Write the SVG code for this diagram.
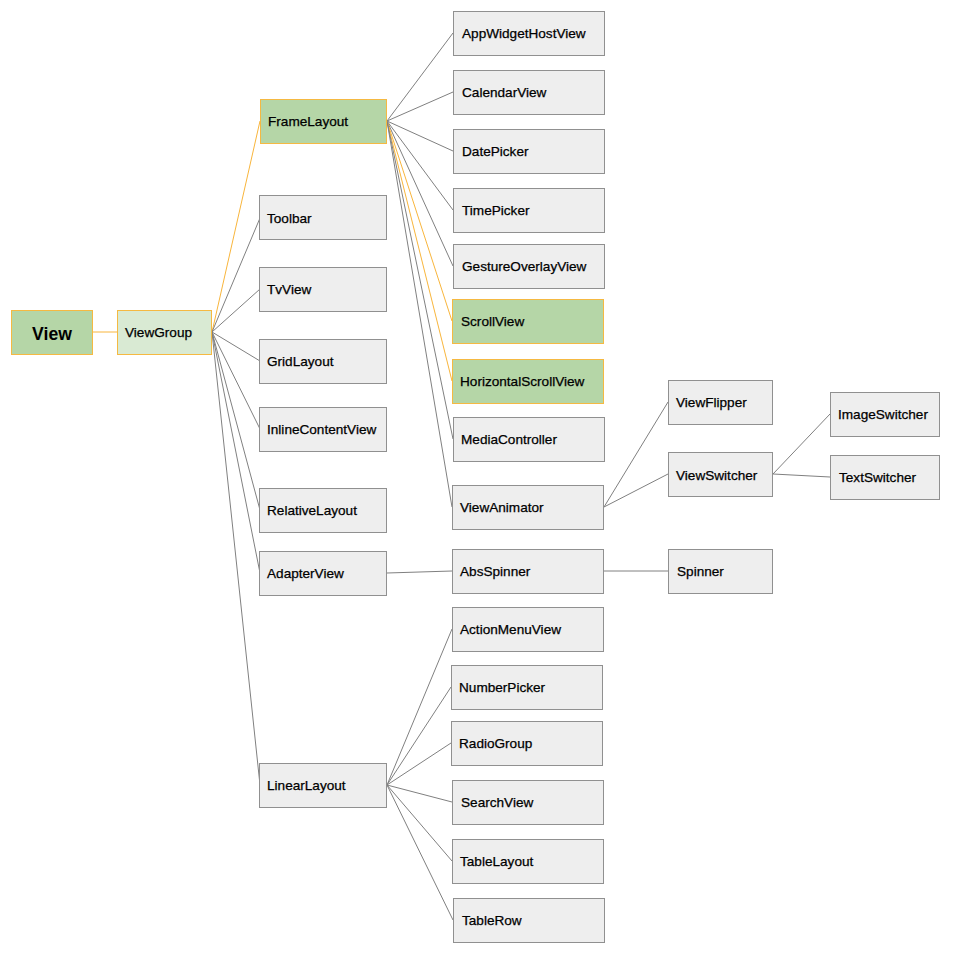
<svg xmlns="http://www.w3.org/2000/svg" width="954" height="955" viewBox="0 0 954 955">
<style>
.n rect{fill:#eeeeee;stroke:#909090;stroke-width:1}
.g rect{fill:#b5d6a7;stroke:#f5b942;stroke-width:1}
.lg rect{fill:#d9ead3;stroke:#f5b942;stroke-width:1}
text{font-family:"Liberation Sans",Arial,sans-serif;font-size:13.6px;fill:#000000;stroke:#000000;stroke-width:0.25}
.e line{stroke:#808080;stroke-width:1;fill:none}
.e line.o{stroke:#f8b53c}
</style>
<rect width="954" height="955" fill="#ffffff"/>
<g class="e" id="connectors">
<line class="o" x1="93" y1="332" x2="117" y2="332"/>
<line class="o" x1="212" y1="332" x2="260" y2="121"/>
<line x1="212" y1="332" x2="260" y2="218"/>
<line x1="212" y1="332" x2="260" y2="289"/>
<line x1="212" y1="332" x2="260" y2="361"/>
<line x1="212" y1="332" x2="260" y2="429"/>
<line x1="212" y1="332" x2="260" y2="510"/>
<line x1="212" y1="332" x2="260" y2="573"/>
<line x1="212" y1="332" x2="260" y2="785"/>
<line x1="387" y1="121" x2="453" y2="33"/>
<line x1="387" y1="121" x2="453" y2="92"/>
<line x1="387" y1="121" x2="453" y2="151"/>
<line x1="387" y1="121" x2="453" y2="210"/>
<line x1="387" y1="121" x2="453" y2="266"/>
<line class="o" x1="387" y1="121" x2="452" y2="321"/>
<line class="o" x1="387" y1="121" x2="452" y2="381"/>
<line x1="387" y1="121" x2="453" y2="439"/>
<line x1="387" y1="121" x2="452" y2="507"/>
<line x1="604" y1="507" x2="668" y2="402"/>
<line x1="604" y1="507" x2="668" y2="474"/>
<line x1="773" y1="474" x2="830" y2="414"/>
<line x1="773" y1="474" x2="830" y2="477"/>
<line x1="387" y1="573" x2="452" y2="571"/>
<line x1="604" y1="571" x2="668" y2="571"/>
<line x1="387" y1="785" x2="452" y2="629"/>
<line x1="387" y1="785" x2="451" y2="687"/>
<line x1="387" y1="785" x2="451" y2="743"/>
<line x1="387" y1="785" x2="452" y2="802"/>
<line x1="387" y1="785" x2="452" y2="861"/>
<line x1="387" y1="785" x2="453" y2="920"/>
</g>
<g id="View" class="g"><rect x="11.5" y="310.5" width="81" height="44"/><text x="52" y="340" text-anchor="middle" style="font-size:17.6px;font-weight:bold;stroke-width:0">View</text></g>
<g id="ViewGroup" class="lg"><rect x="117.5" y="310.5" width="94" height="44"/><text x="125" y="337">ViewGroup</text></g>
<g id="FrameLayout" class="g"><rect x="260.5" y="99.5" width="126" height="44"/><text x="268" y="126">FrameLayout</text></g>
<g id="Toolbar" class="n"><rect x="259.5" y="195.5" width="127" height="44"/><text x="267" y="223">Toolbar</text></g>
<g id="TvView" class="n"><rect x="259.5" y="267.5" width="127" height="44"/><text x="267" y="294">TvView</text></g>
<g id="GridLayout" class="n"><rect x="259.5" y="339.5" width="127" height="44"/><text x="267" y="366">GridLayout</text></g>
<g id="InlineContentView" class="n"><rect x="259.5" y="407.5" width="127" height="44"/><text x="267" y="434">InlineContentView</text></g>
<g id="RelativeLayout" class="n"><rect x="259.5" y="488.5" width="127" height="44"/><text x="267" y="515">RelativeLayout</text></g>
<g id="AdapterView" class="n"><rect x="259.5" y="551.5" width="127" height="44"/><text x="267" y="578">AdapterView</text></g>
<g id="LinearLayout" class="n"><rect x="259.5" y="763.5" width="127" height="44"/><text x="267" y="790">LinearLayout</text></g>
<g id="AppWidgetHostView" class="n"><rect x="453.5" y="11.5" width="151" height="44"/><text x="462" y="38">AppWidgetHostView</text></g>
<g id="CalendarView" class="n"><rect x="453.5" y="70.5" width="151" height="44"/><text x="462" y="97">CalendarView</text></g>
<g id="DatePicker" class="n"><rect x="453.5" y="129.5" width="151" height="44"/><text x="462" y="156">DatePicker</text></g>
<g id="TimePicker" class="n"><rect x="453.5" y="188.5" width="151" height="44"/><text x="462" y="215">TimePicker</text></g>
<g id="GestureOverlayView" class="n"><rect x="453.5" y="244.5" width="151" height="44"/><text x="462" y="271">GestureOverlayView</text></g>
<g id="ScrollView" class="g"><rect x="452.5" y="299.5" width="151" height="44"/><text x="461" y="326">ScrollView</text></g>
<g id="HorizontalScrollView" class="g"><rect x="452.5" y="359.5" width="151" height="44"/><text x="460" y="386">HorizontalScrollView</text></g>
<g id="MediaController" class="n"><rect x="453.5" y="417.5" width="151" height="44"/><text x="461" y="444">MediaController</text></g>
<g id="ViewAnimator" class="n"><rect x="452.5" y="485.5" width="151" height="44"/><text x="460" y="512">ViewAnimator</text></g>
<g id="AbsSpinner" class="n"><rect x="452.5" y="549.5" width="151" height="44"/><text x="460" y="576">AbsSpinner</text></g>
<g id="ActionMenuView" class="n"><rect x="452.5" y="607.5" width="151" height="44"/><text x="460" y="634">ActionMenuView</text></g>
<g id="NumberPicker" class="n"><rect x="451.5" y="665.5" width="151" height="44"/><text x="459" y="692">NumberPicker</text></g>
<g id="RadioGroup" class="n"><rect x="451.5" y="721.5" width="151" height="44"/><text x="459" y="748">RadioGroup</text></g>
<g id="SearchView" class="n"><rect x="452.5" y="780.5" width="151" height="44"/><text x="461" y="807">SearchView</text></g>
<g id="TableLayout" class="n"><rect x="452.5" y="839.5" width="151" height="44"/><text x="460" y="866">TableLayout</text></g>
<g id="TableRow" class="n"><rect x="453.5" y="898.5" width="151" height="44"/><text x="462" y="925">TableRow</text></g>
<g id="ViewFlipper" class="n"><rect x="668.5" y="380.5" width="104" height="44"/><text x="676" y="407">ViewFlipper</text></g>
<g id="ViewSwitcher" class="n"><rect x="668.5" y="452.5" width="104" height="44"/><text x="676" y="480">ViewSwitcher</text></g>
<g id="Spinner" class="n"><rect x="668.5" y="549.5" width="104" height="44"/><text x="677" y="576">Spinner</text></g>
<g id="ImageSwitcher" class="n"><rect x="830.5" y="392.5" width="109" height="44"/><text x="838" y="419">ImageSwitcher</text></g>
<g id="TextSwitcher" class="n"><rect x="830.5" y="455.5" width="109" height="44"/><text x="839" y="482">TextSwitcher</text></g>
</svg>
